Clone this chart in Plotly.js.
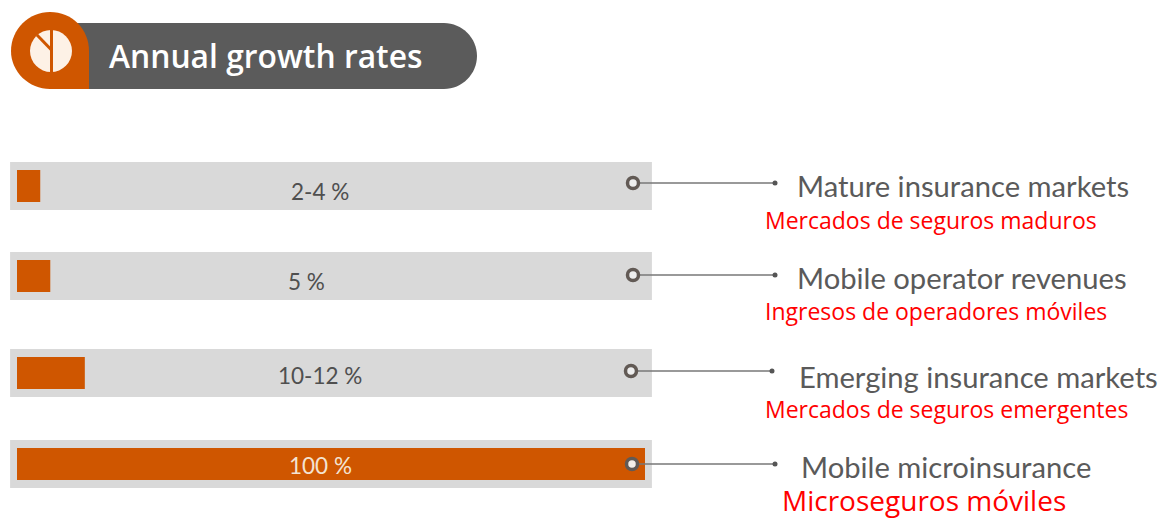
<!DOCTYPE html>
<html>
<head>
<meta charset="utf-8">
<script src="https://cdn.plot.ly/plotly-3.0.1.min.js"></script>
<style>html,body{margin:0;padding:0;background:#fff;overflow:hidden}#chart{width:1165px;height:518px}</style>
</head>
<body>
<div id="chart"></div>
<script>
// ---- data ----
const titleText = "Annual growth rates";
const categories = ["Mature insurance markets", "Mobile operator revenues", "Emerging insurance markets", "Mobile microinsurance"];
const translations = ["Mercados de seguros maduros", "Ingresos de operadores móviles", "Mercados de seguros emergentes", "Microseguros móviles"];
const rangeLabels = ["2-4 %", "5 %", "10-12 %", "100 %"];
const barValues = [3.7, 5.3, 10.8, 100];

// ---- layout helpers (pixels of the 1165x518 page) ----
const W = 1165, H = 518;
const rowCentres = [186, 276, 373, 464];
const leaderY = [183, 275, 371, 464];
const ringX = [633, 633, 631, 632];
const dotX = [775, 775, 772, 775];
const labelX = [797, 797, 799, 801];
const labelY = [185, 277, 376, 466];
const transX = [765, 765, 765, 782];
const transY = [220, 311, 409, 500];
const transSize = [23, 23, 23, 28];
const pctX = [320, 307, 320, 320];
const pctY = [191, 281, 375, 465];
const px = x => x / W, py = y => 1 - y / H;
const unit = 6.28, zeroPx = 17;
const xRange = [-zeroPx / unit, (W - zeroPx) / unit];
const ORANGE = "#cf5600", DARK = "#5b5b5b", TRACK = "#d9d9d9", TEXT = "#5a5a5a";

const trackTrace = {
  type: "bar", orientation: "h", y: rowCentres, x: barValues.map(() => 102.2),
  base: barValues.map(() => -1.1), width: 48, marker: {color: TRACK, line: {width: 0}}
};
const valueTrace = {
  type: "bar", orientation: "h", y: rowCentres, x: barValues,
  width: 32, marker: {color: ORANGE, line: {width: 0}}
};

const shape = (o) => Object.assign({xref: "paper", yref: "paper", layer: "above"}, o);
const shapes = [
  // badge
  shape({type: "path", fillcolor: DARK, line: {width: 0},
    path: `M ${px(70)} ${py(23)} L ${px(444)} ${py(23)} C ${px(462)} ${py(23)} ${px(477)} ${py(38)} ${px(477)} ${py(56)} C ${px(477)} ${py(74)} ${px(462)} ${py(89)} ${px(444)} ${py(89)} L ${px(70)} ${py(89)} Z`}),
  shape({type: "path", fillcolor: ORANGE, line: {width: 0},
    path: `M ${px(50)} ${py(12)} C ${px(72)} ${py(12)} ${px(89)} ${py(29)} ${px(89)} ${py(51)} L ${px(89)} ${py(89)} L ${px(50)} ${py(89)} C ${px(29)} ${py(89)} ${px(11)} ${py(72)} ${px(11)} ${py(51)} C ${px(11)} ${py(29)} ${px(29)} ${py(12)} ${px(50)} ${py(12)} Z`}),
  shape({type: "circle", x0: px(30), x1: px(72), y0: py(30), y1: py(72), fillcolor: "#fdf1e6", line: {width: 0}}),
  shape({type: "line", x0: px(51.5), x1: px(51.5), y0: py(29), y1: py(72), line: {color: ORANGE, width: 3}}),
  shape({type: "line", x0: px(37), x1: px(51.5), y0: py(35), y1: py(50), line: {color: ORANGE, width: 3}})
];
rowCentres.forEach((_, i) => {
  shapes.push(shape({type: "line", x0: px(ringX[i]), x1: px(dotX[i]), y0: py(leaderY[i]), y1: py(leaderY[i]), line: {color: "#777", width: 1.5}}));
  shapes.push(shape({type: "circle", x0: px(dotX[i] - 2.5), x1: px(dotX[i] + 2.5), y0: py(leaderY[i] - 2.5), y1: py(leaderY[i] + 2.5), fillcolor: "#555", line: {width: 0}}));
  shapes.push(shape({type: "circle", x0: px(ringX[i] - 5.5), x1: px(ringX[i] + 5.5), y0: py(leaderY[i] - 5.5), y1: py(leaderY[i] + 5.5),
    fillcolor: i === 3 ? "#f5efe8" : "#eeeeee", line: {color: "#625a55", width: 3.5}}));
});

const note = (text, x, y, size, color, family, anchor) => ({
  text, xref: "paper", yref: "paper", x: px(x), y: py(y), xanchor: anchor || "left", yanchor: "middle",
  showarrow: false, borderpad: 0, borderwidth: 0, font: {family, size, color}
});
const annotations = [note(titleText, 109, 55, 31.8, "#ffffff", "Open Sans")];
annotations[0].font.weight = 600;
categories.forEach((c, i) => {
  annotations.push(note(c, labelX[i], labelY[i], 29.2, TEXT, "Lato"));
  annotations.push(note(translations[i], transX[i], transY[i], transSize[i], "#ff0000", "Open Sans"));
  annotations.push(note(rangeLabels[i], pctX[i], pctY[i], 22.5, i === 3 ? "#f3e3d2" : "#4f4f4f", "Lato", "center"));
});

Plotly.newPlot("chart", [trackTrace, valueTrace], {
  width: W, height: H, margin: {l: 0, r: 0, t: 0, b: 0}, autosize: false,
  paper_bgcolor: "#ffffff", plot_bgcolor: "#ffffff", showlegend: false, barmode: "overlay",
  xaxis: {range: xRange, visible: false, fixedrange: true},
  yaxis: {range: [H, 0], visible: false, fixedrange: true},
  shapes, annotations
}, {staticPlot: true, displayModeBar: false});
</script>
</body>
</html>
